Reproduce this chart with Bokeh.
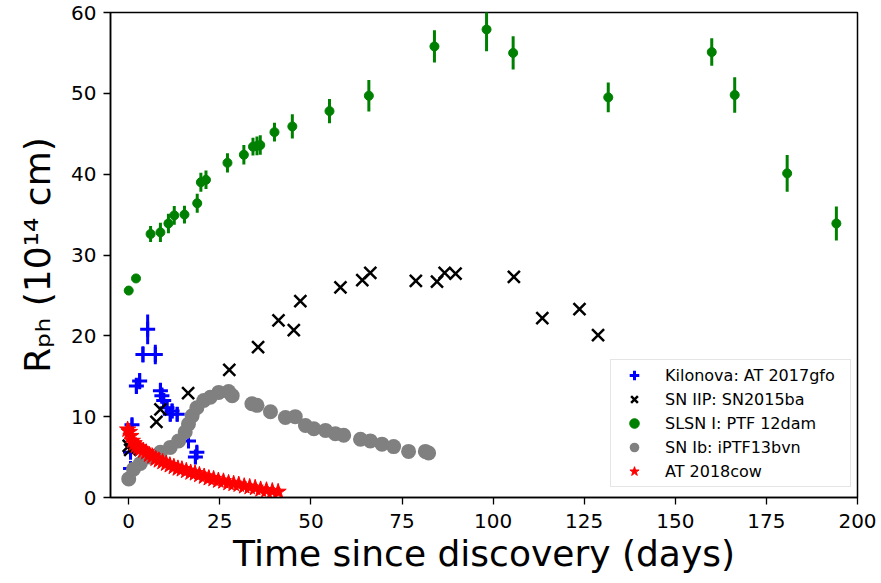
import numpy as np
from bokeh.plotting import figure
from bokeh.models import Range1d, Legend, LegendItem, ColumnDataSource, FixedTicker
from bokeh.embed import file_html
from bokeh.resources import INLINE

# ---------------- data ----------------
x_ticks = [0, 25, 50, 75, 100, 125, 150, 175, 200]
y_ticks = [0, 10, 20, 30, 40, 50, 60]

# Kilonova: AT 2017gfo
kn_t = [0.5, 0.5, 0.9, 2.1, 3.0, 3.9, 5.2, 7.3, 8.7, 9.1, 9.6, 10.5, 11.4, 11.9, 13.3, 16.4, 18.3, 18.7]
kn_r = [3.6, 5.6, 9.0, 13.8, 14.4, 17.7, 20.8, 17.7, 13.2, 12.6, 12.0, 11.1, 10.3, 10.7, 10.3, 7.0, 5.0, 5.6]
kn_e = [0.6, 0.6, 0.8, 1.0, 1.0, 1.0, 1.85, 1.2, 1.0, 1.0, 0.9, 0.9, 0.9, 0.9, 0.9, 0.8, 0.8, 0.8]

# SN IIP: SN2015ba
iip_t = [0.0, 0.4, 7.6, 8.7, 16.3, 27.6, 35.5, 41.1, 45.3, 47.1, 58.1, 64.1, 66.3, 78.8, 84.6, 86.7, 89.7,
         105.7, 113.5, 123.7, 128.8]
iip_r = [6.4, 5.9, 9.35, 10.9, 12.9, 15.8, 18.6, 21.9, 20.7, 24.3, 26.0, 26.9, 27.8, 26.8, 26.7, 27.8, 27.7,
         27.3, 22.2, 23.3, 20.1]

# SLSN I: PTF 12dam
sl_t = [0.0, 2.0, 6.0, 8.7, 10.9, 12.5, 15.3, 18.8, 19.8, 21.2, 27.1, 31.6, 34.1, 35.2, 36.1, 40.0, 44.9,
        55.1, 65.9, 83.9, 98.2, 105.5, 131.6, 160.0, 166.3, 180.7, 194.2]
sl_r = [25.6, 27.1, 32.6, 32.8, 33.9, 34.9, 35.0, 36.4, 39.0, 39.3, 41.4, 42.4, 43.4, 43.5, 43.6, 45.2, 45.9,
        47.8, 49.7, 55.8, 57.9, 55.0, 49.5, 55.1, 49.8, 40.1, 33.9]
sl_e = [0.3, 0.3, 1.0, 1.2, 1.2, 1.15, 1.1, 1.17, 1.17, 1.15, 1.2, 1.2, 1.1, 1.15, 1.2, 1.17, 1.5,
        1.5, 1.95, 2.0, 2.7, 2.06, 1.85, 1.7, 2.2, 2.26, 2.1]

# SN Ib: iPTF13bvn
ib_t = [0.0, 1.3, 3.2, 5.9, 8.7, 11.4, 13.7, 15.5, 16.4, 17.4, 18.7, 20.6, 22.4, 24.7, 27.4, 28.4, 33.8,
        35.2, 38.9, 43.0, 45.7, 48.5, 50.8, 54.0, 56.7, 59.0, 63.6, 66.3, 69.5, 72.7, 76.8, 81.4, 82.3]
ib_r = [2.3, 3.5, 4.2, 5.0, 5.6, 6.2, 7.0, 8.1, 9.1, 10.1, 11.1, 12.0, 12.4, 13.0, 13.1, 12.6, 11.6,
        11.4, 10.6, 9.9, 10.0, 8.9, 8.5, 8.3, 7.9, 7.7, 7.2, 7.0, 6.6, 6.3, 5.7, 5.7, 5.5]

# AT 2018cow
cow_t = [-0.3, 0.2, 0.6, 1.0, 1.5, 2.0, 2.6, 3.2, 4.0, 4.8, 5.6, 6.5, 7.4, 8.3, 9.3, 10.3, 11.3, 12.4, 13.5,
         14.6, 15.8, 17.0, 18.2, 19.4, 20.7, 22.0, 23.3, 24.6, 26.0, 27.4, 28.8, 30.2, 31.7, 33.2, 34.7,
         36.2, 37.8, 39.4, 41.0]
cow_r = [8.4, 8.1, 7.6, 7.0, 6.7, 6.4, 6.2, 6.0, 5.8, 5.6, 5.3, 5.1, 4.8, 4.6, 4.4, 4.2, 4.0, 3.8, 3.6,
         3.5, 3.3, 3.1, 3.0, 2.8, 2.6, 2.4, 2.3, 2.1, 2.0, 1.8, 1.7, 1.6, 1.4, 1.3, 1.2, 1.0, 0.9, 0.8, 0.7]

labels = ["Kilonova: AT 2017gfo", "SN IIP: SN2015ba", "SLSN I: PTF 12dam", "SN Ib: iPTF13bvn", "AT 2018cow"]

FONT = "DejaVu Sans"

W, H = 881, 583
p = figure(width=W, height=H, output_backend="svg", toolbar_location=None,
           x_range=Range1d(-5, 200), y_range=Range1d(0, 60),
           min_border_left=110, min_border_right=24, min_border_top=12, min_border_bottom=86)
p.xgrid.visible = False
p.ygrid.visible = False
p.outline_line_color = "black"
p.outline_line_width = 1.5
p.outline_line_alpha = 1.0
p.background_fill_color = "white"
p.border_fill_color = "white"

p.xaxis.ticker = FixedTicker(ticks=x_ticks)
p.yaxis.ticker = FixedTicker(ticks=y_ticks)
for ax in (p.xaxis[0], p.yaxis[0]):
    ax.axis_line_color = "black"
    ax.axis_line_width = 1.5
    ax.major_tick_out = 7
    ax.major_tick_in = 0
    ax.minor_tick_out = 0
    ax.minor_tick_in = 0
    ax.major_tick_line_width = 1.3
    ax.major_tick_line_color = "black"
    ax.major_label_text_font = FONT
    ax.major_label_text_font_size = "20px"
    ax.major_label_text_color = "black"
    ax.axis_label_text_font = FONT
    ax.axis_label_text_font_size = "36px"
    ax.axis_label_text_font_style = "normal"
    ax.axis_label_text_color = "black"
p.xaxis.major_label_standoff = 9
p.yaxis.major_label_standoff = 7

p.xaxis.axis_label = "Time since discovery (days)"
p.xaxis.axis_label_standoff = 2
p.yaxis.axis_label = "R\u209a\u2095 (10\u00b9\u2074 cm)"
p.yaxis.axis_label_standoff = 10

# ---------------- glyphs ----------------
kn_src = ColumnDataSource(dict(x=kn_t, y=kn_r, lo=[a - b for a, b in zip(kn_r, kn_e)],
                               hi=[a + b for a, b in zip(kn_r, kn_e)]))
p.segment(x0="x", y0="lo", x1="x", y1="hi", source=kn_src, line_color="#0000ff", line_width=3)
r_kn = p.scatter("x", "y", source=kn_src, marker="cross", size=15, line_color="#0000ff", line_width=3)

r_iip = p.scatter(iip_t, iip_r, marker="x", size=17, line_color="black", line_width=2.5)

sl_src = ColumnDataSource(dict(x=sl_t, y=sl_r, lo=[a - b for a, b in zip(sl_r, sl_e)],
                               hi=[a + b for a, b in zip(sl_r, sl_e)]))
p.segment(x0="x", y0="lo", x1="x", y1="hi", source=sl_src, line_color="#008000", line_width=3)
r_sl = p.scatter("x", "y", source=sl_src, marker="circle", size=9, fill_color="#008000", line_color="#008000")

r_ib = p.scatter(ib_t, ib_r, marker="circle", size=15, fill_color="#808080", line_color=None)

r_cow = p.scatter(cow_t, cow_r, marker="star", size=17, fill_color="#ff0000", line_color="#ff0000", line_width=1)

legend = Legend(items=[LegendItem(label=labels[0], renderers=[r_kn]),
                       LegendItem(label=labels[1], renderers=[r_iip]),
                       LegendItem(label=labels[2], renderers=[r_sl]),
                       LegendItem(label=labels[3], renderers=[r_ib]),
                       LegendItem(label=labels[4], renderers=[r_cow])],
                location=(500, 10))
legend.label_text_font = FONT
legend.label_text_font_size = "16px"
legend.label_text_color = "black"
legend.padding = 3
legend.spacing = 0
legend.glyph_height = 24
legend.glyph_width = 40
legend.label_height = 24
legend.label_width = 182
legend.label_standoff = 11
legend.border_line_color = "#cccccc"
legend.border_line_width = 1.5
legend.background_fill_alpha = 0.8
legend.margin = 0
p.add_layout(legend)

open("out.html", "w").write(file_html(p, INLINE))
